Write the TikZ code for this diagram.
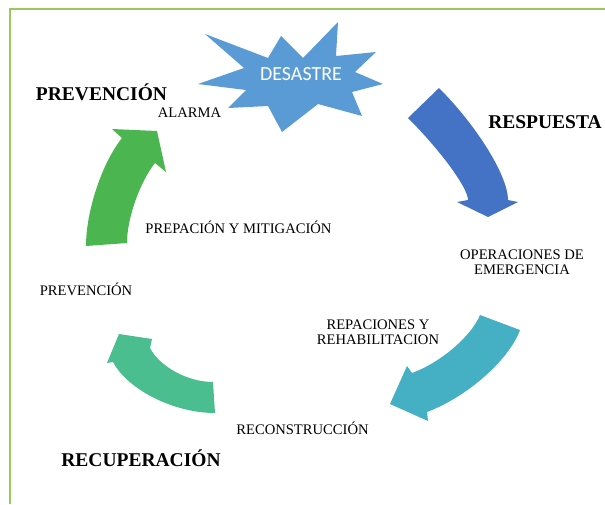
\documentclass[tikz,border=0pt]{standalone}
\usepackage{fontspec}
\setmainfont{Liberation Serif}
\newfontfamily\calib{Carlito}
\definecolor{framec}{HTML}{9BC85B}
\definecolor{starc}{HTML}{5B9BD5}
\definecolor{blueA}{HTML}{4472C4}
\definecolor{tealA}{HTML}{45AFC3}
\definecolor{seaA}{HTML}{4ABE8E}
\definecolor{greenA}{HTML}{4BB550}
\tikzset{
  phase/.style={font=\fontsize{19.5}{22}\selectfont\bfseries, inner sep=0pt},
  stage/.style={font=\fontsize{14.6}{15}\selectfont, inner sep=0pt, align=center},
}
\begin{document}
\begin{tikzpicture}[x=1pt,y=-1pt]
\useasboundingbox (0,0) rectangle (605,504);
% frame
\draw[framec, line width=2.2pt] (10,504) -- (10,9) -- (605,9);

% disaster star
\fill[starc] (205,34) -- (268,58) -- (281,36) -- (303,58) -- (338,22) -- (336,56)
  -- (376,52) -- (355,72) -- (383,84) -- (352,92) -- (362,116) -- (318,104)
  -- (282,132) -- (268,106) -- (228,108) -- (246,90) -- (198,84) -- (244,68) -- cycle;
\node[font=\calib\fontsize{20}{22}\selectfont, text=white, inner sep=0pt] (desastre) at (301,74) {DESASTRE};

% cycle arrows
\fill[blueA] (439,88) .. controls (477,126) and (508,176) .. (508,200) -- (518,202) -- (488,217)
  -- (457,202) -- (468,200) .. controls (468,188) and (441,151) .. (408,118) -- cycle;
\fill[tealA] (480,315) -- (520,330) .. controls (509,360) and (467,397) .. (427,412) -- (428,421)
  -- (390,404) -- (407,366) -- (412,373) .. controls (442,362) and (472,335) .. (480,315) -- cycle;
\fill[seaA] (213,382) -- (215,413) .. controls (174,413) and (128,390) .. (113,362) -- (107,363)
  -- (119,334) -- (152,339) -- (150,348) .. controls (160,367) and (188,382) .. (213,382) -- cycle;
\fill[greenA] (86,246) .. controls (86,211) and (102,163) .. (122,138) -- (112,129) -- (157,131)
  -- (166,172) -- (155,163) .. controls (140,182) and (127,218) .. (127,243) -- cycle;

% phase titles
\node[phase] (prev) at (101.5,92) {PREVENCIÓN};
\node[phase] (resp) at (545,122) {RESPUESTA};
\node[phase] (recu) at (141,458) {RECUPERACIÓN};

% stages
\node[stage] (alarma) at (189.5,113) {ALARMA};
\node[stage] (prep) at (238.5,227) {PREPACIÓN Y MITIGACIÓN};
\node[stage] (prevs) at (86,289) {PREVENCIÓN};
\node[stage] (oper) at (522,262) {OPERACIONES DE\\EMERGENCIA};
\node[stage] (repa) at (378,332) {REPACIONES Y\\REHABILITACION};
\node[stage] (recon) at (302.5,428) {RECONSTRUCCIÓN};
\end{tikzpicture}
\end{document}
